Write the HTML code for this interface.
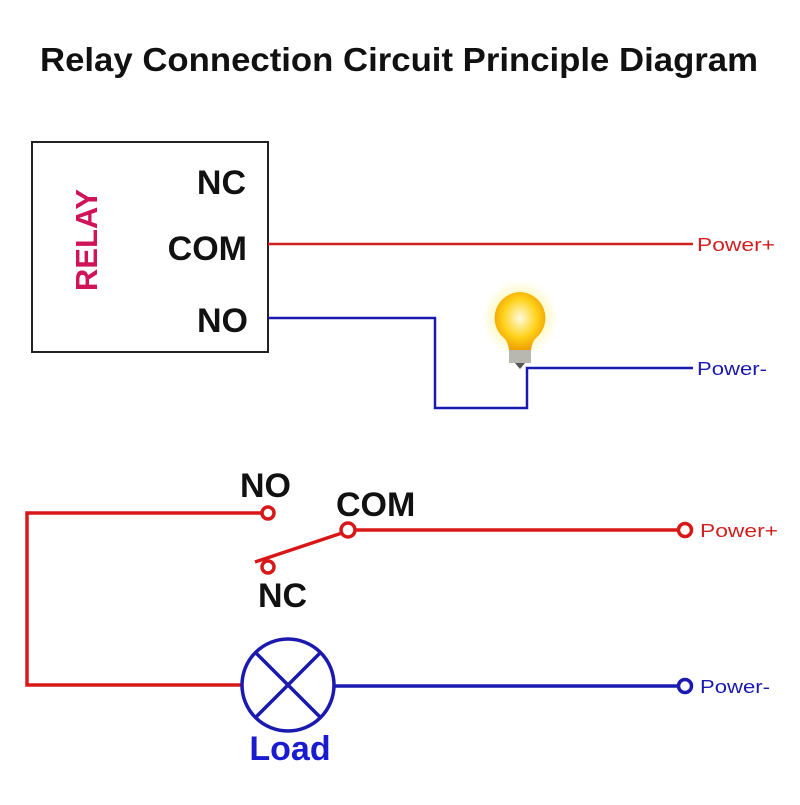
<!DOCTYPE html>
<html><head><style>body{margin:0;background:#fff}</style></head><body>
<svg width="800" height="800" xmlns="http://www.w3.org/2000/svg" font-family="Liberation Sans, sans-serif">
<defs><radialGradient id="g" cx="50%" cy="45%" r="55%"><stop offset="0" stop-color="#fffbe0"/><stop offset="0.6" stop-color="#ffd21a"/><stop offset="1" stop-color="#f0a000"/></radialGradient>
<radialGradient id="glow"><stop offset="0.5" stop-color="#fff6a0" stop-opacity="0.8"/><stop offset="1" stop-color="#fff6a0" stop-opacity="0"/></radialGradient></defs>
<text x="40" y="71" textLength="718" lengthAdjust="spacingAndGlyphs" font-size="33" font-weight="bold" fill="#111">Relay Connection Circuit Principle Diagram</text>
<rect x="32" y="142" width="236" height="210" fill="none" stroke="#222" stroke-width="2"/>
<text transform="translate(97,240) rotate(-90)" text-anchor="middle" font-size="31" font-weight="bold" fill="#d0145a">RELAY</text>
<g font-size="34" font-weight="bold" fill="#111" text-anchor="end">
<text x="246" y="194">NC</text><text x="247" y="260">COM</text><text x="248" y="332">NO</text></g>
<g fill="none" stroke-width="2.5">
<path d="M268 244H693" stroke="#d02020"/>
<path d="M268 318H435V408H527V368H693" stroke="#1a1ab0"/>
</g>
<text x="697" y="251" font-size="18" textLength="78" lengthAdjust="spacingAndGlyphs" fill="#d02020">Power+</text>
<text x="697" y="375" font-size="18" textLength="70" lengthAdjust="spacingAndGlyphs" fill="#1a1ab0">Power-</text>
<circle cx="520" cy="318" r="38" fill="url(#glow)"/>
<path d="M520 292a26 26 0 0 1 16 46q-4 4 -5 12h-22q-1 -8 -5 -12a26 26 0 0 1 16 -46z" fill="url(#g)"/>
<rect x="509" y="350" width="22" height="13" fill="#b8b8b0"/>
<path d="M515 363h10l-5 6z" fill="#555"/>
<g fill="none" stroke="#d81818" stroke-width="3.5">
<path d="M262 513H27V685H241"/>
<circle cx="268" cy="513" r="6"/>
<circle cx="348" cy="530" r="7"/>
<path d="M355 530H678"/>
<circle cx="685" cy="530" r="6.5"/>
<path d="M255 562L342 533"/>
<circle cx="268" cy="567" r="6"/>
</g>
<g font-size="34" font-weight="bold" fill="#111">
<text x="240" y="497">NO</text><text x="336" y="516">COM</text><text x="258" y="607">NC</text></g>
<text x="700" y="537" font-size="18" textLength="78" lengthAdjust="spacingAndGlyphs" fill="#d02020">Power+</text>
<g fill="none" stroke="#1a1ab0" stroke-width="3.5">
<circle cx="288" cy="685" r="46"/>
<path d="M255 652L321 718M321 652L255 718"/>
<path d="M334 686H678"/>
<circle cx="685" cy="686" r="6.5"/>
</g>
<text x="700" y="693" font-size="18" textLength="70" lengthAdjust="spacingAndGlyphs" fill="#1a1ab0">Power-</text>
<text x="290" y="760" text-anchor="middle" font-size="34" font-weight="bold" fill="#1a1ad0">Load</text>
</svg>
</body></html>
